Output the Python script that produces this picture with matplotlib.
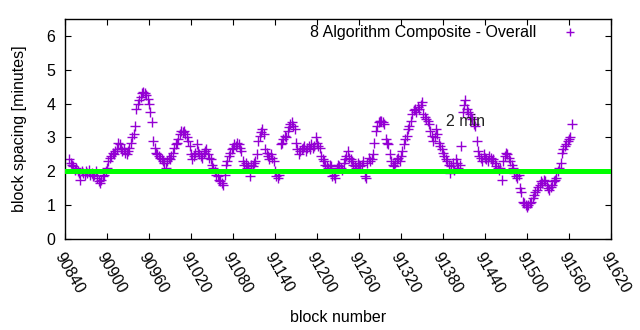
import numpy as np
import matplotlib
matplotlib.use("Agg")
import matplotlib.pyplot as plt

plt.rcParams['font.family'] = ['Liberation Sans', 'DejaVu Sans']

start_block = 90846
block_step = 2
spacing = [
    2.35, 2.25, 2.2, 2.15, 2.05, 2.1, 2.0, 1.95, 1.75, 2.0,
    1.95, 1.9, 2.0, 1.95, 2.05, 1.9, 1.95, 1.85, 1.9, 2.0,
    1.8, 1.7, 1.65, 1.75, 1.85, 1.9, 2.0, 2.1, 2.3, 2.4,
    2.45, 2.55, 2.5, 2.6, 2.65, 2.85, 2.8, 2.7, 2.6, 2.65,
    2.55, 2.5, 2.6, 2.7, 2.85, 3.0, 3.1, 3.35, 3.85, 4.0,
    4.1, 4.2, 4.3, 4.35, 4.3, 4.25, 4.15, 4.0, 3.75, 3.45,
    2.9, 2.7, 2.55, 2.5, 2.45, 2.4, 2.35, 2.3, 2.25, 2.1,
    2.3, 2.4, 2.35, 2.45, 2.55, 2.7, 2.8, 2.85, 2.95, 3.1,
    3.2, 3.15, 3.2, 3.1, 3.0, 2.9, 2.75, 2.5, 2.35, 2.45,
    2.55, 2.8, 2.6, 2.5, 2.45, 2.4, 2.55, 2.6, 2.65, 2.5,
    2.4, 2.35, 2.2, 2.1, 2.0, 1.9, 1.85, 1.75, 1.7, 1.65,
    1.6, 1.9, 2.2, 2.3, 2.45, 2.55, 2.65, 2.7, 2.8, 2.75,
    2.85, 2.8, 2.7, 2.6, 2.3, 2.2, 2.25, 2.1, 2.15, 1.85,
    2.2, 2.15, 2.25, 2.3, 2.5, 2.9, 3.05, 3.15, 3.25, 3.1,
    2.65, 2.55, 2.45, 2.35, 2.5, 2.4, 2.3, 2.0, 1.85, 1.8,
    1.9, 2.8, 2.85, 2.95, 3.05, 3.0, 3.2, 3.3, 3.4, 3.45,
    3.35, 3.25, 2.85, 2.65, 2.5, 2.6, 2.65, 2.7, 2.75, 2.6,
    2.7, 2.75, 2.65, 2.8, 2.7, 2.75, 3.0, 2.85, 2.75, 2.7,
    2.45, 2.35, 2.3, 2.2, 2.15, 2.1, 2.2, 2.15, 1.85, 1.9,
    1.8, 2.1, 2.2, 2.15, 2.1, 2.05, 2.25, 2.35, 2.45, 2.6,
    2.4, 2.35, 2.3, 2.2, 2.15, 2.1, 2.25, 2.2, 2.15, 2.2,
    2.3, 1.85, 1.8, 2.25, 2.4, 2.3, 2.35, 2.5, 2.85, 3.2,
    3.35, 3.45, 3.5, 3.5, 3.45, 3.4, 2.95, 2.85, 2.8, 2.5,
    2.3, 2.2, 2.15, 2.25, 2.35, 2.4, 2.3, 2.45, 2.6, 2.8,
    2.95, 3.05, 3.25, 3.35, 3.5, 3.7, 3.8, 3.85, 3.75, 3.9,
    3.85, 3.95, 4.05, 3.7, 3.6, 3.55, 3.5, 3.4, 3.2, 3.05,
    2.9, 3.0, 3.25, 3.1, 2.85, 2.75, 2.65, 2.55, 2.45, 2.35,
    2.3, 2.2, 1.95, 2.15, 2.25, 2.05, 2.35, 2.25, 2.1, 2.2,
    2.75, 3.75, 3.95, 4.1, 3.85, 3.75, 3.7, 3.6, 3.55, 3.4,
    3.35, 2.9, 2.6, 2.45, 2.4, 2.3, 2.5, 2.4, 2.35, 2.3,
    2.45, 2.4, 2.3, 2.35, 2.25, 2.15, 2.1, 2.05, 2.1, 1.75,
    2.3, 2.45, 2.55, 2.5, 2.4, 2.3, 2.2, 2.1, 1.95, 1.85,
    1.8, 1.9, 1.5, 1.4, 1.1, 1.05, 1.0, 0.95, 1.0, 1.05,
    1.1, 1.2, 1.3, 1.4, 1.45, 1.55, 1.6, 1.7, 1.65, 1.75,
    1.7, 1.6, 1.5, 1.45, 1.55, 1.6, 1.7, 1.75, 1.8, 2.0,
    2.1, 2.25, 2.55, 2.65, 2.75, 2.8, 2.9, 2.95, 3.0, 3.4,
]
blocks = start_block + block_step * np.arange(len(spacing))

target_minutes = 2
x_ticks = [90840, 90900, 90960, 91020, 91080, 91140, 91200, 91260,
           91320, 91380, 91440, 91500, 91560, 91620]
y_ticks = [0, 1, 2, 3, 4, 5, 6]
series_label = "8 Algorithm Composite - Overall"
note_text = "2 min"
note_pos = (91384, 3.47)

FS = 11.5
fig = plt.figure(figsize=(6.4, 3.3), dpi=100)
ax = fig.add_axes([0.1016, 0.2758, 0.8531, 0.6666])

ax.plot(blocks, spacing, linestyle='none', marker='+', markersize=7,
        markeredgewidth=1.0, color='#9400D3', label=series_label, zorder=2)
ax.axhline(target_minutes, color='#00FF00', linewidth=3.6, zorder=3)

ax.set_xlim(90840, 91620)
ax.set_ylim(0, 6.5)
ax.set_xticks(x_ticks)
ax.set_yticks(y_ticks)
ax.set_xticklabels([str(t) for t in x_ticks], rotation=-60, ha='left',
                   va='top', rotation_mode='anchor', fontsize=FS)
ax.set_yticklabels([str(t) for t in y_ticks], fontsize=FS)
ax.tick_params(direction='in', top=True, right=True, length=4, width=0.8,
               pad=7)
ax.tick_params(axis='x', pad=8)
for s in ax.spines.values():
    s.set_linewidth(1.0)

ax.set_xlabel("block number", fontsize=FS, labelpad=10)
ax.set_ylabel("block spacing [minutes]", fontsize=FS, labelpad=14)

ax.text(note_pos[0], note_pos[1], note_text, fontsize=FS, ha='left',
        va='center', color='#222222')

leg = ax.legend(loc='upper right', markerfirst=False, frameon=False,
                fontsize=FS, handlelength=1.0, handletextpad=1.6,
                borderaxespad=0.2, bbox_to_anchor=(0.957, 1.015))
for h in leg.legend_handles:
    h.set_markersize(6)

fig.savefig("out.png", dpi=100)
